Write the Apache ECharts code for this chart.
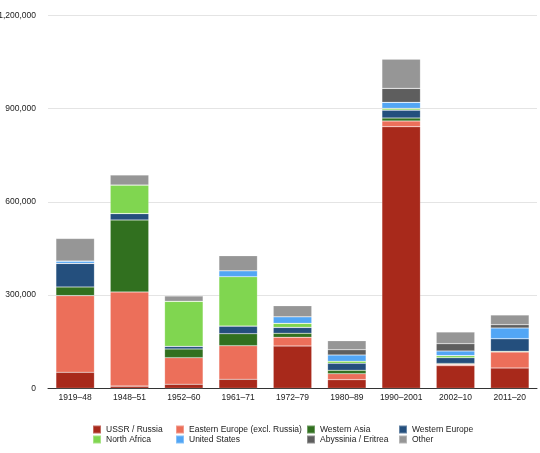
<!DOCTYPE html>
<html><head><meta charset="utf-8">
<script src="https://cdn.jsdelivr.net/npm/echarts@6/dist/echarts.min.js"></script>
<style>html,body{margin:0;padding:0;background:#fff}#c{width:540px;height:453px}</style>
</head><body><div id="c"></div>
<script>
const categories = ["1919–48","1948–51","1952–60","1961–71","1972–79","1980–89","1990–2001","2002–10","2011–20"];
const seriesNames = ["USSR / Russia","Eastern Europe (excl. Russia)","Western Asia","Western Europe","North Africa","United States","Abyssinia / Eritrea","Other"];
const ussr      = [51500, 7000, 13000, 29000, 136000, 27700, 841600, 72700, 65300];
const easternEu = [246500, 303000, 85500, 108000, 28000, 19300, 18400, 4300, 51500];
const westAsia  = [28000, 231500, 28000, 38600, 13000, 11000, 9600, 3000, 2200];
const westEu    = [76000, 20500, 8500, 24400, 19000, 22400, 25400, 18500, 40600];
const nAfrica   = [0, 92000, 145000, 159000, 13000, 6600, 5700, 6500, 0];
const usa       = [7000, 0, 0, 19000, 21000, 20000, 19300, 15000, 34400];
const abyssinia = [0, 0, 0, 0, 0, 17000, 45000, 23500, 10600];
const other     = [73000, 32000, 17000, 48500, 35700, 29000, 94000, 37500, 31200];
const yTicks = [0, 300000, 600000, 900000, 1200000];

const dataSets = [ussr, easternEu, westAsia, westEu, nAfrica, usa, abyssinia, other];
const colors = ["#a8291b","#ec6f5a","#31701f","#244f7d","#80d650","#52a6f5","#5e5e5e","#969696"];
const font = "Liberation Sans, Arial, Helvetica, sans-serif";

const chart = echarts.init(document.getElementById('c'));
const legendCols = [[0,4],[1,5],[2,6],[3,7]];
const legendLefts = [92,175,306,398];
chart.setOption({
  animation: false,
  color: colors,
  grid: {left: 48, right: 3, top: 15.3, bottom: 64.7, containLabel: false, outerBoundsMode: 'none'},
  xAxis: {
    type: 'category', data: categories,
    axisLine: {lineStyle: {color: '#333', width: 1}},
    axisTick: {show: false},
    axisLabel: {color: '#222', fontSize: 8.5, fontFamily: font, margin: 5, interval: 0}
  },
  yAxis: {
    type: 'value', min: yTicks[0], max: yTicks[yTicks.length-1], interval: 300000,
    axisLine: {show: false}, axisTick: {show: false},
    splitLine: {lineStyle: {color: '#e4e4e4', width: 1}},
    axisLabel: {color: '#222', fontSize: 8.5, fontFamily: font, margin: 12,
      formatter: v => v.toLocaleString('en-US')}
  },
  legend: legendCols.map((idx, i) => ({
    data: idx.map(k => seriesNames[k]),
    orient: 'vertical', left: legendLefts[i], top: 424.5,
    padding: 0, itemGap: 0, itemWidth: 8, itemHeight: 8,
    icon: 'rect',
    textStyle: {fontSize: 8.5, fontFamily: font, color: '#222', lineHeight: 10}
  })),
  series: seriesNames.map((n, i) => ({
    name: n, type: 'bar', stack: 'total', data: dataSets[i],
    barCategoryGap: '29%',
    itemStyle: {color: colors[i], borderColor: 'rgba(255,255,255,0.3)', borderWidth: 0.6}
  }))
});
</script></body></html>
